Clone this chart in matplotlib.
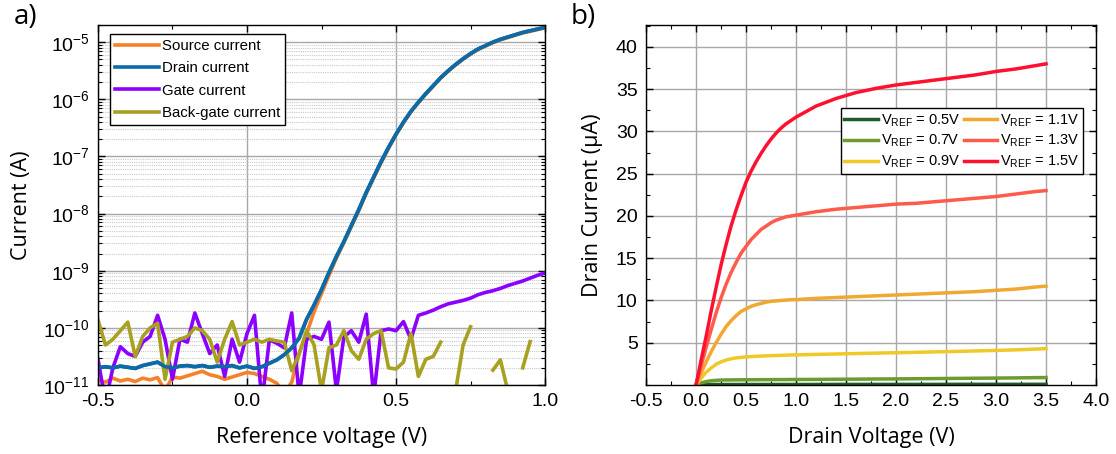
import numpy as np
import matplotlib
matplotlib.use("Agg")
import matplotlib.pyplot as plt
from matplotlib.ticker import MultipleLocator, LogLocator, NullFormatter

plt.rcParams['font.family'] = ['Liberation Sans', 'DejaVu Sans']
plt.rcParams['mathtext.default'] = 'regular'
plt.rcParams['axes.unicode_minus'] = False

# ---- a) transfer sweep: currents stored as log10(I / A), NaN where the reading is negative ----
v_ref = np.round(np.arange(-0.5, 1.0001, 0.025), 3)

drain_log = [-10.70, -10.68, -10.70, -10.67, -10.69, -10.71, -10.66, -10.63, -10.60, -10.68,
             -10.70, -10.67, -10.66, -10.68, -10.66, -10.69, -10.67, -10.68, -10.66, -10.70,
             -10.67, -10.71, -10.68, -10.62, -10.56, -10.47, -10.35, -10.18, -9.85, -9.60,
             -9.33, -9.03, -8.75, -8.49, -8.21, -7.93, -7.63, -7.36, -7.09, -6.84,
             -6.61, -6.40, -6.21, -6.05, -5.90, -5.76, -5.62, -5.50, -5.39, -5.29,
             -5.20, -5.12, -5.06, -5.00, -4.95, -4.91, -4.87, -4.83, -4.80, -4.77, -4.74]

source_log = [-10.92, -10.95, -10.88, -10.93, -10.90, -10.94, -10.88, -10.91, -10.87, -11.10,
              -10.86, -10.88, -10.84, -10.80, -10.76, -10.82, -10.85, -10.90, -10.86, -10.82,
              -10.78, -10.80, -10.85, -10.90, -10.97, -11.15, -10.95, -10.45, -10.10, -9.72,
              -9.40, -9.08, -8.78, -8.51, -8.23, -7.95, -7.65, -7.38, -7.11, -6.86,
              -6.62, -6.41, -6.22, -6.06, -5.91, -5.77, -5.63, -5.51, -5.40, -5.30,
              -5.21, -5.13, -5.07, -5.01, -4.96, -4.92, -4.88, -4.84, -4.81, -4.78, -4.75]

gate_log = [-10.55, -11.30, -10.70, -10.33, -10.45, -10.50, -10.25, -10.15, -9.78, -10.20,
            -10.90, -10.20, -10.25, -9.74, -10.10, -10.45, -10.30, -10.85, -10.20, -10.60,
            -10.10, -9.78, -11.30, -10.21, -10.27, -10.35, -9.74, -11.20, -10.20, -10.15,
            -10.20, -9.90, -11.10, -10.16, -10.05, -10.25, -9.76, -11.20, -10.05, -10.02,
            -10.05, -9.89, -10.20, -9.78, -9.74, -9.69, -9.63, -9.58, -9.55, -9.52,
            -9.48, -9.42, -9.38, -9.35, -9.31, -9.26, -9.22, -9.18, -9.13, -9.08, -9.04]

backgate_log = [-9.86, -10.30, -10.20, -10.05, -9.90, -10.50, -10.15, -10.00, -9.92, -10.90,
                -10.25, -10.20, -10.15, -10.00, -10.05, -10.20, -10.60, -10.20, -9.89, -10.30,
                -10.25, -10.20, -10.25, -10.20, -10.23, -10.25, -10.75, -10.45, -10.05, -10.30,
                -11.10, -10.35, -10.30, -10.05, -10.40, -10.55, -10.20, -10.10, -10.05, -10.70,
                -10.72, -10.60, -10.10, -10.85, -10.55, -10.50, -10.25, np.nan, -11.10, -10.30,
                -9.98, np.nan, np.nan, -10.74, -10.56, -11.10, np.nan, -10.70, -10.24, np.nan, np.nan]

# ---- b) output characteristics (drain current in uA) ----
v_drain = [0.0, 0.05, 0.1, 0.15, 0.2, 0.25, 0.3, 0.35, 0.4, 0.45, 0.5, 0.55, 0.6, 0.65, 0.7,
           0.75, 0.8, 0.85, 0.9, 0.95, 1.0, 1.2, 1.4, 1.6, 1.8, 2.0, 2.2, 2.4, 2.6, 2.8,
           3.0, 3.2, 3.4, 3.5]

id_05 = [0.0, 0.03, 0.05, 0.06, 0.06, 0.06, 0.06, 0.06, 0.06, 0.06, 0.06, 0.06, 0.06, 0.06, 0.06,
         0.06, 0.06, 0.06, 0.06, 0.06, 0.06, 0.06, 0.07, 0.07, 0.07, 0.07, 0.07, 0.07, 0.08, 0.08,
         0.08, 0.08, 0.08, 0.08]
id_07 = [0.0, 0.25, 0.40, 0.50, 0.55, 0.58, 0.60, 0.60, 0.61, 0.61, 0.62, 0.62, 0.62, 0.63, 0.63,
         0.63, 0.64, 0.64, 0.64, 0.65, 0.65, 0.66, 0.68, 0.69, 0.71, 0.72, 0.74, 0.76, 0.78, 0.80,
         0.82, 0.84, 0.87, 0.88]
id_09 = [0.0, 0.8, 1.5, 2.0, 2.45, 2.75, 2.95, 3.1, 3.2, 3.27, 3.32, 3.36, 3.4, 3.42, 3.45,
         3.47, 3.49, 3.51, 3.53, 3.55, 3.56, 3.62, 3.67, 3.72, 3.77, 3.82, 3.87, 3.92, 3.97, 4.03,
         4.09, 4.16, 4.25, 4.3]
id_11 = [0.0, 1.4, 2.7, 3.9, 5.0, 6.0, 6.9, 7.6, 8.2, 8.7, 9.0, 9.3, 9.5, 9.65, 9.8,
         9.9, 9.95, 10.0, 10.05, 10.1, 10.1, 10.25, 10.35, 10.45, 10.55, 10.65, 10.75, 10.85, 10.95, 11.05,
         11.2, 11.35, 11.6, 11.7]
id_13 = [0.0, 2.2, 4.4, 6.5, 8.5, 10.3, 11.9, 13.3, 14.5, 15.6, 16.4, 17.2, 17.8, 18.4, 18.8,
         19.2, 19.5, 19.7, 19.9, 20.0, 20.1, 20.5, 20.8, 21.0, 21.2, 21.4, 21.5, 21.7, 21.9, 22.1,
         22.3, 22.6, 22.9, 23.0]
id_15 = [0.0, 2.9, 5.7, 8.7, 11.5, 14.2, 16.6, 18.8, 20.7, 22.4, 24.0, 25.3, 26.4, 27.4, 28.3,
         29.1, 29.8, 30.4, 30.9, 31.3, 31.7, 33.0, 33.9, 34.6, 35.1, 35.5, 35.8, 36.1, 36.4, 36.7,
         37.1, 37.4, 37.8, 38.0]

vref_labels = ['$V_{REF}$ = 0.5V', '$V_{REF}$ = 0.7V', '$V_{REF}$ = 0.9V',
               '$V_{REF}$ = 1.1V', '$V_{REF}$ = 1.3V', '$V_{REF}$ = 1.5V']
vref_colors = ['#1e5b2c', '#6e9a2e', '#f0c828', '#f0a830', '#ff5a4b', '#ff1030']

label_font = dict(family=['Open Sans', 'DejaVu Sans'], fontsize=15.5)

fig = plt.figure(figsize=(11.16, 4.54), dpi=100)
ax1 = fig.add_axes([0.0878, 0.152, 0.4006, 0.793])
ax2 = fig.add_axes([0.5789, 0.152, 0.4032, 0.793])

# panel a
lw = 2.6
ax1.plot(v_ref, 10 ** np.array(source_log), color='#f5822a', lw=lw, label='Source current')
ax1.plot(v_ref, 10 ** np.array(drain_log), color='#0e6aa6', lw=lw, label='Drain current')
ax1.plot(v_ref, 10 ** np.array(gate_log), color='#8b00ff', lw=lw, label='Gate current')
ax1.plot(v_ref, 10 ** np.array(backgate_log), color='#a8a020', lw=lw, label='Back-gate current')
# drain drawn again so it stays on top of the source trace
ax1.plot(v_ref, 10 ** np.array(drain_log), color='#0e6aa6', lw=lw)

ax1.set_yscale('log')
ax1.set_xlim(-0.5, 1.0)
ax1.set_ylim(1e-11, 2.0e-5)
ax1.xaxis.set_major_locator(MultipleLocator(0.5))
ax1.xaxis.set_minor_locator(MultipleLocator(0.25))
ax1.yaxis.set_major_locator(LogLocator(base=10, numticks=20))
ax1.yaxis.set_minor_locator(LogLocator(base=10, subs=np.arange(2, 10), numticks=20))
ax1.yaxis.set_minor_formatter(NullFormatter())
ax1.grid(True, which='major', color='#a8a8a8', lw=1.0)
ax1.grid(True, which='minor', axis='y', color='#c8c8c8', lw=0.8, ls=(0, (1, 1)))
ax1.set_xlabel('Reference voltage (V)', labelpad=12, **label_font)
ax1.set_ylabel('Current (A)', labelpad=8, **label_font)
ax1.legend(loc='upper left', bbox_to_anchor=(0.027, 0.975), borderaxespad=0, fontsize=10.8,
           handlelength=2.9, handletextpad=0.2, labelspacing=0.55, borderpad=0.35,
           fancybox=False, edgecolor='black', framealpha=1)

# panel b
series_b = [id_05, id_07, id_09, id_11, id_13, id_15]
for vals, lab, col in zip(series_b, vref_labels, vref_colors):
    ax2.plot(v_drain, vals, color=col, lw=2.5, label=lab)
ax2.set_xlim(-0.5, 4.0)
ax2.set_ylim(0, 42.6)
ax2.xaxis.set_major_locator(MultipleLocator(0.5))
ax2.xaxis.set_minor_locator(MultipleLocator(0.25))
ax2.set_yticks(np.arange(5, 41, 5))
ax2.yaxis.set_minor_locator(MultipleLocator(2.5))
ax2.grid(True, which='major', color='#a8a8a8', lw=1.0)
ax2.set_xlabel('Drain Voltage (V)', labelpad=12, **label_font)
ax2.set_ylabel('Drain Current (\u00b5A)', labelpad=9.5, **label_font)
ax2.legend(loc='upper right', bbox_to_anchor=(0.972, 0.768), borderaxespad=0, ncol=2, fontsize=10.5,
           handlelength=2.3, handletextpad=0.2, columnspacing=0.25, labelspacing=0.3,
           borderpad=0.25, fancybox=False, edgecolor='black', framealpha=1)

for ax in (ax1, ax2):
    ax.set_axisbelow(True)
    ax.tick_params(which='both', direction='in', top=True, right=True, labelsize=14, color='black')
    ax.tick_params(which='major', length=5, width=1, pad=6)
    ax.tick_params(which='minor', length=3, width=0.8)
    for sp in ax.spines.values():
        sp.set_color('black')
        sp.set_linewidth(1.0)

fig.text(0.012, 0.962, 'a)', fontsize=20, family=['Open Sans', 'DejaVu Sans'], va='center')
fig.text(0.511, 0.962, 'b)', fontsize=20, family=['Open Sans', 'DejaVu Sans'], va='center')

fig.savefig('out.png', dpi=100)
